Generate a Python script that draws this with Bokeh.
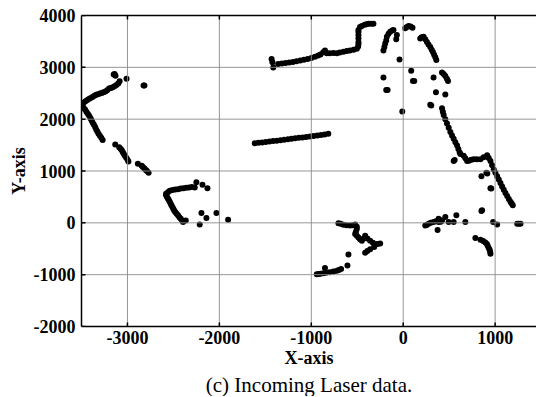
from bokeh.plotting import figure
from bokeh.models import LinearAxis, FixedTicker, Title, CustomJSTickFormatter
from bokeh.embed import file_html
from bokeh.resources import INLINE

x_ticks = [-3000, -2000, -1000, 0, 1000]
y_ticks = [-2000, -1000, 0, 1000, 2000, 3000, 4000]
x_lim = (-3500, 1450)
y_lim = (-2000, 4000)

# top-left arm
arm_x = [-3500, -3480, -3460, -3440, -3420, -3400, -3380, -3360, -3340, -3320, -3300, -3280, -3260, -3240,
         -3220, -3200, -3180, -3160, -3140, -3120, -3100, -3085, -3130, -3140, -3150, -3010, -2825, -2815]
arm_y = [2280, 2310, 2340, 2365, 2390, 2410, 2430, 2450, 2470, 2480, 2495, 2505, 2520, 2535,
         2560, 2590, 2600, 2615, 2635, 2660, 2690, 2730, 2840, 2870, 2860, 2780, 2650, 2650]

# left descending wall
wall_x = [-3490, -3475, -3460, -3445, -3430, -3415, -3400, -3390, -3378, -3365, -3352, -3340, -3328, -3315,
          -3300, -3285, -3270, -3133, -3090, -3075, -3062, -3050, -3040, -3028, -3015, -3000, -2990,
          -2887, -2845, -2832, -2815, -2800, -2788, -2770]
wall_y = [2250, 2215, 2180, 2140, 2100, 2060, 2015, 1975, 1930, 1890, 1850, 1800, 1760, 1720,
          1680, 1640, 1600, 1510, 1460, 1430, 1400, 1360, 1330, 1295, 1260, 1220, 1185,
          1140, 1100, 1075, 1050, 1020, 1000, 965]

# corner near (-2400, 600)
corner_x = [-2580, -2560, -2540, -2510, -2480, -2450, -2420, -2390, -2360, -2330, -2300, -2268, -2250, -2184, -2130,
            -2580, -2570, -2560, -2550, -2540, -2530, -2520, -2510, -2500, -2490, -2478, -2465, -2450, -2435,
            -2420, -2405, -2395, -2366, -2214, -2195, -2141, -2032, -1905]
corner_y = [560, 590, 620, 635, 645, 650, 660, 668, 676, 683, 690, 683, 781, 734, 669,
            530, 500, 470, 440, 405, 370, 335, 300, 265, 235, 205, 175, 145, 110,
            80, 45, 15, 45, -33, 191, 93, 191, 59]

# middle wall
mid_x = [-1615, -1575, -1535, -1495, -1455, -1415, -1375, -1335, -1295, -1255, -1215, -1175, -1135, -1095,
         -1055, -1015, -975, -935, -895, -855, -815]
mid_y = [1535, 1545, 1552, 1560, 1568, 1577, 1585, 1595, 1605, 1612, 1622, 1630, 1640, 1648,
         1657, 1667, 1675, 1685, 1695, 1705, 1718]

# top wall
top_x = [-1432, -1423, -1414, -1360, -1320, -1280, -1240, -1200, -1160, -1120, -1080, -1040, -1000, -960,
         -925, -900, -870, -851, -832, -800, -760, -723, -690, -650, -614, -580, -540, -505, -490, -487,
         -487, -487, -487, -487, -487, -470, -450, -420, -400, -378, -350, -324]
top_y = [3163, 3100, 2998, 3065, 3075, 3085, 3095, 3105, 3118, 3130, 3145, 3160, 3180, 3205,
         3230, 3250, 3290, 3327, 3274, 3270, 3275, 3274, 3285, 3300, 3313, 3325, 3340, 3360, 3400, 3450,
         3490, 3560, 3622, 3680, 3720, 3780, 3799, 3820, 3830, 3839, 3840, 3839]

# around the origin, top
near_x = [-215, -205, -196, -185, -178, -160, -142, -120, -106, -69, -76, -40, -215, -185, -170, -10,
          22, 40, 58, 80, 101, 185, 200, 221, 240, 258, 275, 294, 310, 323, 336, 349, 360,
          87, 106, 120, 330, 422, 440, 458, 475, 487, 356, 458, 294, 305]
near_y = [3327, 3390, 3458, 3520, 3589, 3650, 3687, 3710, 3720, 3622, 3540, 3150, 2802, 2565, 2565, 2146,
          3754, 3780, 3799, 3790, 3766, 3557, 3580, 3589, 3540, 3491, 3440, 3392, 3340, 3294, 3245, 3195, 3143,
          2933, 2736, 2736, 2802, 2900, 2870, 2835, 2780, 2736, 2520, 2474, 2278, 2265]

# right diagonal wall
diag_x = [422, 431, 440, 458, 476, 495, 513, 531, 549, 567, 586, 600, 614, 622,
          549, 560, 658, 676, 695, 715, 740, 767, 800, 840, 875, 913, 930, 949, 967, 985, 1003, 1022,
          1040, 1058, 1076, 1094, 1112, 1131, 1149, 1167, 1180, 1192,
          851, 905, 915, 949, 958, 858]
diag_y = [2211, 2145, 2081, 2000, 1915, 1835, 1752, 1685, 1620, 1555, 1490, 1425, 1358, 1330,
          1195, 1210, 1293, 1245, 1195, 1200, 1215, 1226, 1226, 1226, 1265, 1306, 1250, 1195, 1110, 1030, 965, 900,
          835, 768, 700, 636, 575, 518, 460, 407, 375, 341,
          900, 965, 950, 669, 660, 242]

# lower right
low_x = [240, 255, 276, 300, 330, 355, 385, 395, 385, 410, 422, 458, 494, 549, 578, 676, 374, 851, 978, 1022,
         1240, 1258, 1276, 785, 840, 870, 894, 910, 920, 932, 941, 946, 949]
low_y = [-53, -40, -20, 0, 14, 30, 79, 60, 14, 20, 45, 112, 14, 14, 144, 14, -138, 230, 14, -33,
         -20, -20, -20, -295, -328, -350, -380, -410, -446, -490, -525, -560, -597]

# lower middle
bot_x = [-705, -680, -651, -615, -578, -550, -523, -505, -505, -515, -523, -505, -487, -470, -450, -430, -414,
         -390, -360, -330, -305, -280, -251, -414, -390, -360, -316, -596, -607,
         -941, -920, -900, -869, -840, -800, -760, -723, -700, -676, -851]
bot_y = [-6, -20, -39, -45, -53, -45, -33, -118, -75, -170, -217, -250, -282, -315, -348, -300, -250,
         -300, -348, -385, -413, -410, -400, -577, -545, -512, -466, -610, -821,
         -990, -985, -980, -971, -965, -955, -940, -925, -910, -892, -872]

xs = arm_x + wall_x + corner_x + mid_x + top_x + near_x + diag_x + low_x + bot_x
ys = arm_y + wall_y + corner_y + mid_y + top_y + near_y + diag_y + low_y + bot_y

FONT = "Liberation Serif"

p = figure(width=536, height=396, x_range=x_lim, y_range=y_lim,
           output_backend="svg", toolbar_location=None,
           min_border_left=81, min_border_top=15, min_border_right=0, min_border_bottom=0)
p.outline_line_color = None
p.border_fill_color = "white"
p.background_fill_color = "white"
p.xgrid.visible = False
p.ygrid.visible = False

# data points first
p.scatter(xs, ys, size=6, color="black", line_color=None)

nx, ny = len(x_ticks), len(y_ticks)
y_mid = (y_lim[0] + y_lim[1]) / 2
x_mid = (x_lim[0] + x_lim[1]) / 2
y_span = y_lim[1] - y_lim[0]
x_span = x_lim[1] - x_lim[0]

# grid lines and inward ticks, drawn as glyphs after the points
p.segment(x0=x_ticks, y0=[y_lim[0]] * nx, x1=x_ticks, y1=[y_lim[1]] * nx,
          line_color="#8c8c8c", line_width=1, line_alpha=0.9)
p.segment(x0=[x_lim[0]] * ny, y0=y_ticks, x1=[x_lim[1]] * ny, y1=y_ticks,
          line_color="#8c8c8c", line_width=1, line_alpha=0.9)
p.rect(x=x_ticks, y=[y_lim[0]] * nx, width=1.5, height=8, width_units="screen", height_units="screen",
       fill_color="black", line_color=None)
p.rect(x=x_ticks, y=[y_lim[1]] * nx, width=1.5, height=8, width_units="screen", height_units="screen",
       fill_color="black", line_color=None)
p.rect(x=[x_lim[0]] * ny, y=y_ticks, width=8, height=1.5, width_units="screen", height_units="screen",
       fill_color="black", line_color=None)

plain = CustomJSTickFormatter(code="return tick.toString();")

for ax in (p.xaxis[0], p.yaxis[0]):
    ax.major_tick_in = 0
    ax.major_tick_out = 0
    ax.minor_tick_line_color = None
    ax.axis_line_width = 1.5
    ax.axis_line_color = "black"
    ax.major_label_text_font = FONT
    ax.major_label_text_font_style = "bold"
    ax.major_label_text_font_size = "18px"
    ax.major_label_text_color = "black"
    ax.axis_label_text_font = FONT
    ax.axis_label_text_font_style = "bold"
    ax.axis_label_text_font_size = "18px"
    ax.axis_label_text_color = "black"
    ax.formatter = plain

p.xaxis[0].ticker = FixedTicker(ticks=x_ticks)
p.yaxis[0].ticker = FixedTicker(ticks=y_ticks)
p.xaxis[0].axis_label = "X-axis"
p.yaxis[0].axis_label = "Y-axis"
p.xaxis[0].major_label_standoff = 4
p.xaxis[0].axis_label_standoff = 1
p.yaxis[0].major_label_standoff = 6
p.yaxis[0].axis_label_standoff = 2

top = LinearAxis(ticker=FixedTicker(ticks=x_ticks), formatter=CustomJSTickFormatter(code="return '';"),
                 major_tick_in=0, major_tick_out=0, minor_tick_line_color=None,
                 axis_line_width=1.5, axis_line_color="black", major_label_standoff=0)
p.add_layout(top, "above")

p.add_layout(Title(text="(c) Incoming Laser data.", align="center", text_font=FONT, standoff=0,
                   text_font_style="normal", text_font_size="21px", text_color="black"), "below")

open("out.html", "w").write(file_html(p, INLINE))
